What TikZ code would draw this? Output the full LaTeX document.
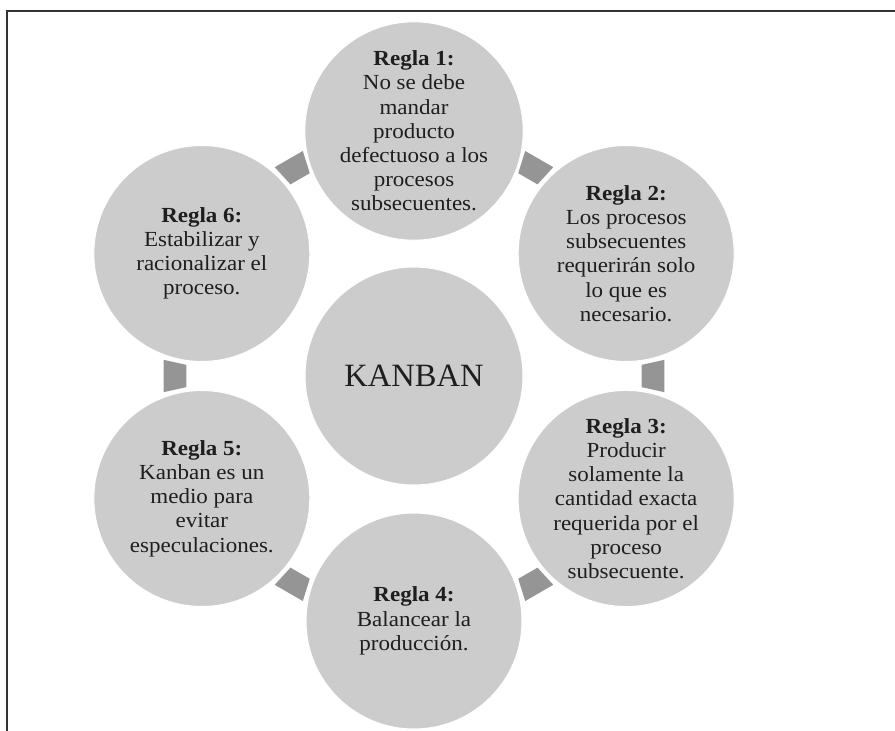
\documentclass[tikz,border=0pt]{standalone}
\usepackage{fontspec}
\setmainfont{Liberation Serif}
\newfontfamily\rulefont[FakeStretch=1.07]{Liberation Serif}
\usetikzlibrary{calc}
\definecolor{circfill}{HTML}{CCCCCC}
\definecolor{connfill}{HTML}{959595}
\definecolor{framecol}{HTML}{333333}
\definecolor{textcol}{HTML}{1E1E1E}
\tikzset{
  frameline/.style={draw=framecol, line width=1.3pt},
  circ/.style={circle, fill=circfill, draw=white, line width=1pt, minimum size=216pt, inner sep=0pt,
               align=center, text=textcol, font=\rulefont\fontsize{21.5}{24.2}\selectfont},
  core/.style={circle, fill=circfill, draw=white, line width=1pt, minimum size=218pt, inner sep=0pt,
               text=textcol, font=\fontsize{32.5}{39}\selectfont},
  conn/.style={fill=connfill},
}
\begin{document}
\begin{tikzpicture}[x=1pt,y=-1pt]
\useasboundingbox (0,0) rectangle (895,731);
\draw[frameline] (895,11) -- (7,11) -- (7,731);
\coordinate (c) at (414,376);
\node[circ] (r1) at ($(c)+(-90:245)$) {\textbf{Regla 1:}\\No se debe\\mandar\\producto\\defectuoso a los\\procesos\\subsecuentes.};
\node[circ] (r2) at ($(c)+(-30:245)$) {\textbf{Regla 2:}\\Los procesos\\subsecuentes\\requerirán solo\\lo que es\\necesario.};
\node[circ] (r3) at ($(c)+(30:245)$) {\textbf{Regla 3:}\\Producir\\solamente la\\cantidad exacta\\requerida por el\\proceso\\subsecuente.};
\node[circ] (r4) at ($(c)+(90:245)$) {\textbf{Regla 4:}\\Balancear la\\producción.};
\node[circ] (r5) at ($(c)+(150:245)$) {\textbf{Regla 5:}\\Kanban es un\\medio para\\evitar\\especulaciones.};
\node[circ] (r6) at ($(c)+(210:245)$) {\textbf{Regla 6:}\\Estabilizar y\\racionalizar el\\proceso.};
\foreach \a in {-60,0,60,120,180,240}
  \fill[conn] ($(c)+(\a-2.8:228)$) -- ($(c)+(\a+2.8:228)$) -- ($(c)+(\a+3.7:251)$) -- ($(c)+(\a-3.7:251)$) -- cycle;
\node[core] (k) at (c) {KANBAN};
\end{tikzpicture}
\end{document}
